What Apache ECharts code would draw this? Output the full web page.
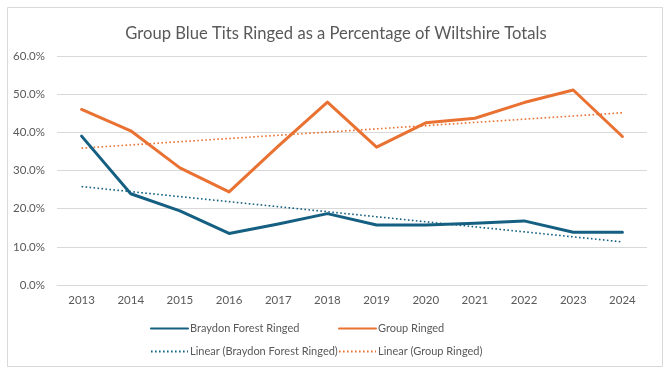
<!DOCTYPE html>
<html><head><meta charset="utf-8">
<script src="https://cdn.jsdelivr.net/npm/echarts@6/dist/echarts.min.js"></script>
<style>html,body{margin:0;padding:0;background:#fff}#c{width:672px;height:373px}</style>
</head><body><div id="c"></div>
<script>
const years = ['2013','2014','2015','2016','2017','2018','2019','2020','2021','2022','2023','2024'];
const braydon = [39.0, 23.9, 19.4, 13.5, 16.0, 18.7, 15.7, 15.7, 16.2, 16.8, 13.8, 13.8];
const group = [46.0, 40.4, 30.7, 24.4, 36.4, 47.9, 36.1, 42.5, 43.7, 47.8, 51.1, 38.9];
const yTicks = [0, 10, 20, 30, 40, 50, 60];

function linearFit(vals) {
  const n = vals.length;
  let sx = 0, sy = 0, sxx = 0, sxy = 0;
  vals.forEach((v, i) => { sx += i; sy += v; sxx += i * i; sxy += i * v; });
  const b = (n * sxy - sx * sy) / (n * sxx - sx * sx);
  const a = (sy - b * sx) / n;
  return vals.map((_, i) => a + b * i);
}

const BLUE = '#156082', ORANGE = '#E97132';
const FONT = 'Lato, "Noto Sans", sans-serif';
const chart = echarts.init(document.getElementById('c'), null, {renderer: 'canvas'});
const legendBase = (name, left, top) => ({
  data: [name], left: left, top: top, itemWidth: 37, itemHeight: 8, itemGap: 2,
  itemStyle: {opacity: 0},
  textStyle: {color: '#595959', fontSize: 11, fontFamily: FONT, padding: [0, 0, 0, -3]},
  selectedMode: false
});
chart.setOption({
  animation: false,
  backgroundColor: '#fff',
  graphic: [{type: 'rect', shape: {x: 7.5, y: 7.5, width: 655, height: 359, r: 0},
    style: {fill: 'none', stroke: '#d9d9d9', lineWidth: 1}, silent: true}],
  title: {text: 'Group Blue Tits Ringed as a Percentage of Wiltshire Totals', left: 'center', top: 20,
    textStyle: {color: '#595959', fontSize: 16.6, fontWeight: 'normal', fontFamily: FONT}},
  grid: {left: 57, right: 25, top: 56, bottom: 88},
  legend: [
    legendBase('Braydon Forest Ringed', 145, 318),
    legendBase('Group Ringed', 333, 318),
    legendBase('Linear (Braydon Forest Ringed)', 145, 341),
    legendBase('Linear (Group Ringed)', 333, 341)
  ],
  xAxis: {type: 'category', data: years, boundaryGap: true,
    axisLine: {show: true, lineStyle: {color: '#d9d9d9'}}, axisTick: {show: false},
    axisLabel: {color: '#595959', fontSize: 11.5, fontFamily: FONT, margin: 9}},
  yAxis: {type: 'value', min: yTicks[0], max: yTicks[yTicks.length - 1], interval: 10,
    axisLine: {show: false}, axisTick: {show: false},
    splitLine: {lineStyle: {color: '#d9d9d9'}},
    axisLabel: {color: '#595959', fontSize: 11.5, fontFamily: FONT, margin: 12,
      formatter: v => v.toFixed(1) + '%'}},
  series: [
    {name: 'Braydon Forest Ringed', type: 'line', data: braydon, symbol: 'none',
      lineStyle: {color: BLUE, width: 3, cap: 'round', join: 'round'}, itemStyle: {color: BLUE}, z: 4},
    {name: 'Group Ringed', type: 'line', data: group, symbol: 'none',
      lineStyle: {color: ORANGE, width: 3, cap: 'round', join: 'round'}, itemStyle: {color: ORANGE}, z: 4},
    {name: 'Linear (Braydon Forest Ringed)', type: 'line', data: linearFit(braydon), symbol: 'none',
      lineStyle: {color: BLUE, width: 1.6, type: [1.6, 2.4]}, itemStyle: {color: BLUE}, z: 3},
    {name: 'Linear (Group Ringed)', type: 'line', data: linearFit(group), symbol: 'none',
      lineStyle: {color: ORANGE, width: 1.6, type: [1.6, 2.4]}, itemStyle: {color: ORANGE}, z: 3}
  ]
});
</script></body></html>
